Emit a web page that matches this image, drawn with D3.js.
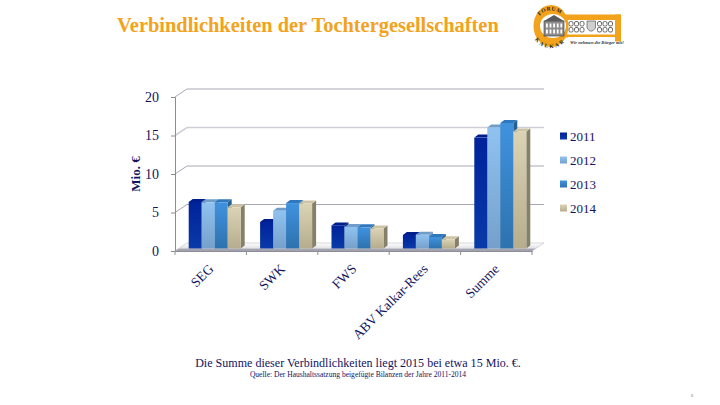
<!DOCTYPE html>
<html>
<head>
<meta charset="utf-8">
<script src="https://d3js.org/d3.v7.min.js"></script>
<style>
  html, body { margin: 0; padding: 0; background: #fff; }
  svg { display: block; }
  text { font-family: "Liberation Serif", serif; }
</style>
</head>
<body>
<div id="chart"></div>
<script>
const categories = ["SEG", "SWK", "FWS", "ABV Kalkar-Rees", "Summe"];
const years = ["2011", "2012", "2013", "2014"];
const values2011 = [6.05, 3.45, 3.0, 1.75, 14.4];
const values2012 = [6.0, 4.9, 2.8, 1.8, 15.7];
const values2013 = [6.0, 5.9, 2.75, 1.5, 16.3];
const values2014 = [5.35, 5.85, 2.6, 1.2, 15.2];
const seriesValues = [values2011, values2012, values2013, values2014];
const yTicks = [0, 5, 10, 15, 20];

const navy = "#14145f";
const width = 720, height = 405;
const plotLeft = 175, plotRight = 532, plotBottom = 251, plotTop = 97;
const depthX = 12, depthY = 8;   // 3d offset of the back wall
const barDX = 4, barDY = 3;      // 3d offset of a bar
const lift = 2.5;                // bars stand a little behind the front edge

const svg = d3.select("#chart").append("svg")
  .attr("width", width)
  .attr("height", height);

// Gradients
const defs = svg.append("defs");
const faceColors = [
  ["#00229a", "#0a3aa8"],
  ["#90c2f0", "#76a0cc"],
  ["#4092de", "#2e72ae"],
  ["#dcd2b4", "#b6ac8e"]
];
faceColors.forEach((c, i) => {
  const grad = defs.append("linearGradient")
    .attr("id", "face" + i)
    .attr("x1", 0).attr("x2", 0).attr("y1", 0).attr("y2", 1);
  grad.append("stop").attr("offset", "0%").attr("stop-color", c[0]);
  grad.append("stop").attr("offset", "100%").attr("stop-color", c[1]);
});
const floorGrad = defs.append("linearGradient")
  .attr("id", "floor")
  .attr("x1", 0).attr("x2", 0).attr("y1", 0).attr("y2", 1);
floorGrad.append("stop").attr("offset", "0%").attr("stop-color", "#ffffff");
floorGrad.append("stop").attr("offset", "62%").attr("stop-color", "#e4e4e8");
floorGrad.append("stop").attr("offset", "78%").attr("stop-color", "#a6a6b2");
floorGrad.append("stop").attr("offset", "100%").attr("stop-color", "#9a9aa8");

const topColors = ["#001f8c", "#6f9cc8", "#2f78bd", "#cdc4a6"];
const sideColors = ["#001a78", "#6f94b8", "#25608f", "#858069"];

// Scales
const xScale = d3.scaleBand().domain(categories).range([plotLeft, plotRight]);
const yScale = d3.scaleLinear().domain([0, 20]).range([plotBottom, plotTop]);
const barScale = d3.scaleBand().domain(years).range([0, 52]);
const groupPad = (xScale.bandwidth() - 52) / 2 + 4;

// Title
svg.append("text")
  .attr("x", 117).attr("y", 32)
  .attr("font-size", 20.4)
  .attr("font-weight", "bold")
  .attr("fill", "#f2a31b")
  .text("Verbindlichkeiten der Tochtergesellschaften");

// Back wall grid lines
const chart = svg.append("g");
yTicks.slice(1).forEach((t) => {
  chart.append("polyline")
    .attr("points", [
      [plotLeft, yScale(t)],
      [plotLeft + depthX, yScale(t) - depthY],
      [plotRight + depthX, yScale(t) - depthY]
    ].join(" "))
    .attr("fill", "none")
    .attr("stroke", t === 15 ? "#cfcfd8" : "#a8a8b4")
    .attr("stroke-width", t === 15 ? 1.6 : 1);
});

// Floor
chart.append("polygon")
  .attr("points", [
    [plotLeft, plotBottom],
    [plotLeft + depthX, plotBottom - depthY],
    [plotRight + depthX, plotBottom - depthY],
    [plotRight, plotBottom]
  ].join(" "))
  .attr("fill", "url(#floor)")
  .attr("stroke", "#b0b0ba")
  .attr("stroke-width", 0.5);

// Axes
const yAxis = chart.append("g")
  .attr("transform", `translate(${plotLeft},0)`)
  .call(d3.axisLeft(yScale).tickValues(yTicks).tickSize(4).tickPadding(12));
const xAxis = chart.append("g")
  .attr("transform", `translate(0,${plotBottom})`)
  .call(d3.axisBottom(xScale).tickSize(0).tickFormat(""));
xAxis.selectAll(".tick").remove();
xAxis.selectAll(".xtick")
  .data(categories.map((c) => xScale(c)).concat([plotRight]))
  .enter().append("line")
  .attr("class", "xtick")
  .attr("x1", (d) => d).attr("x2", (d) => d)
  .attr("y1", 0).attr("y2", 4)
  .attr("stroke", "#8c8c96");
chart.selectAll(".domain").attr("stroke", "#8c8c96");
yAxis.selectAll(".tick line").attr("stroke", "#8c8c96");
yAxis.selectAll(".tick text")
  .attr("font-family", "Liberation Serif")
  .attr("font-size", 14)
  .attr("fill", navy);

// Bars, back to front so the faces overlap right
categories.forEach((cat, c) => {
  years.forEach((year, s) => {
    const v = seriesValues[s][c];
    const x0 = xScale(cat) + groupPad + barScale(year);
    const w = barScale.bandwidth();
    const h = yScale(0) - yScale(v);
    const y0 = plotBottom - lift - h;
    const yb = plotBottom - lift;
    const g = chart.append("g").attr("class", "bar");
    g.append("polygon")
      .attr("points", [
        [x0 + w, y0], [x0 + w + barDX, y0 - barDY],
        [x0 + w + barDX, yb - barDY], [x0 + w, yb]
      ].join(" "))
      .attr("fill", sideColors[s]);
    g.append("polygon")
      .attr("points", [
        [x0, y0], [x0 + barDX, y0 - barDY],
        [x0 + w + barDX, y0 - barDY], [x0 + w, y0]
      ].join(" "))
      .attr("fill", topColors[s]);
    g.append("rect")
      .attr("x", x0).attr("y", y0)
      .attr("width", w).attr("height", h)
      .attr("fill", `url(#face${s})`);
  });
});

// Category labels
const labelG = svg.append("g");
categories.forEach((cat) => {
  const lx = xScale(cat) + xScale.bandwidth() / 2 - 3;
  labelG.append("text")
    .attr("transform", `translate(${lx},263) rotate(-45)`)
    .attr("text-anchor", "end")
    .attr("dy", "0.7em")
    .attr("font-size", 13.6)
    .attr("fill", navy)
    .text(cat);
});

// Y title
svg.append("text")
  .attr("transform", "translate(140,174) rotate(-90)")
  .attr("text-anchor", "middle")
  .attr("font-size", 13)
  .attr("font-weight", "bold")
  .attr("fill", navy)
  .text("Mio. €");

// Legend
years.forEach((year, i) => {
  const ly = 136 + i * 24;
  svg.append("rect")
    .attr("x", 560).attr("y", ly - 3.5)
    .attr("width", 7).attr("height", 7)
    .attr("fill", `url(#face${i})`);
  svg.append("text")
    .attr("x", 570).attr("y", ly + 4.5)
    .attr("font-size", 13)
    .attr("fill", navy)
    .text(year);
});

// Notes
svg.append("text")
  .attr("x", 358).attr("y", 367)
  .attr("text-anchor", "middle")
  .attr("font-size", 12.05)
  .attr("fill", navy)
  .text("Die Summe dieser Verbindlichkeiten liegt 2015 bei etwa 15 Mio. €.");
svg.append("text")
  .attr("x", 358).attr("y", 376.5)
  .attr("text-anchor", "middle")
  .attr("font-size", 7.55)
  .attr("fill", navy)
  .text("Quelle: Der Haushaltssatzung beigefügte Bilanzen der Jahre 2011-2014");
svg.append("text")
  .attr("x", 692).attr("y", 397)
  .attr("text-anchor", "middle")
  .attr("font-size", 4.5)
  .attr("fill", "#666")
  .text("6");

// Logo
const orange = "#f2a31b";
const logo = svg.append("g").attr("transform", "translate(551,26)");
logo.append("rect").attr("x", 0).attr("y", -11.5).attr("width", 70).attr("height", 5.5).attr("fill", orange);
logo.append("rect").attr("x", 64).attr("y", -11.5).attr("width", 6).attr("height", 27).attr("fill", orange);
logo.append("rect").attr("x", 0).attr("y", 8.5).attr("width", 70).attr("height", 3).attr("fill", orange);
logo.append("ellipse").attr("rx", 17.5).attr("ry", 21).attr("fill", orange);
logo.append("ellipse").attr("cx", 2).attr("rx", 13).attr("ry", 12).attr("fill", "#fff");
logo.append("rect").attr("x", -7).attr("y", -5).attr("width", 20).attr("height", 15).attr("fill", "#8d8d8d").attr("stroke", "#333").attr("stroke-width", 0.6);
logo.append("path").attr("d", "M-7,-5 L3,-11 L13,-5 Z").attr("fill", "#5a5a5a");
d3.range(5).forEach((i) => {
  d3.range(2).forEach((j) => {
    logo.append("rect")
      .attr("x", -5 + i * 3.6).attr("y", -2.5 + j * 6)
      .attr("width", 1.8).attr("height", 4)
      .attr("fill", "#fff");
  });
});
[18, 23.5, 29, 46.5, 52, 57.5].forEach((x) => {
  [-4.5, 1.5].forEach((y) => {
    logo.append("rect")
      .attr("x", x).attr("y", y)
      .attr("width", 4).attr("height", 4.5)
      .attr("rx", 1.5)
      .attr("fill", "#fff").attr("stroke", "#444").attr("stroke-width", 0.8);
  });
});
logo.append("path")
  .attr("d", "M36,-5 L44.5,-5 L44.5,2 Q40,8.5 36,2 Z")
  .attr("fill", "#cfcfcf").attr("stroke", "#444").attr("stroke-width", 0.6);
logo.append("rect").attr("x", 17).attr("y", 11).attr("width", 47).attr("height", 8).attr("fill", "#fff");
logo.append("defs").append("path").attr("id", "arcTop").attr("d", "M-14,-6 A15,15 0 0 1 13,-8");
logo.append("defs").append("path").attr("id", "arcBot").attr("d", "M-14,9 A15,16 0 0 0 12,11");
logo.append("text").attr("font-size", 5.5).attr("font-weight", "bold").attr("fill", "#222").attr("letter-spacing", 0.6)
  .append("textPath").attr("href", "#arcTop").attr("startOffset", "50%").attr("text-anchor", "middle").text("FORUM");
logo.append("text").attr("font-size", 5.5).attr("font-weight", "bold").attr("fill", "#222").attr("letter-spacing", 0.6).attr("dy", 4)
  .append("textPath").attr("href", "#arcBot").attr("startOffset", "50%").attr("text-anchor", "middle").text("KALKAR");
logo.append("text").attr("x", 19).attr("y", 17.5).attr("font-size", 4.6).attr("font-style", "italic").attr("font-weight", "bold").attr("fill", "#333")
  .text("Wir nehmen die Bürger mit!");
</script>
</body>
</html>
